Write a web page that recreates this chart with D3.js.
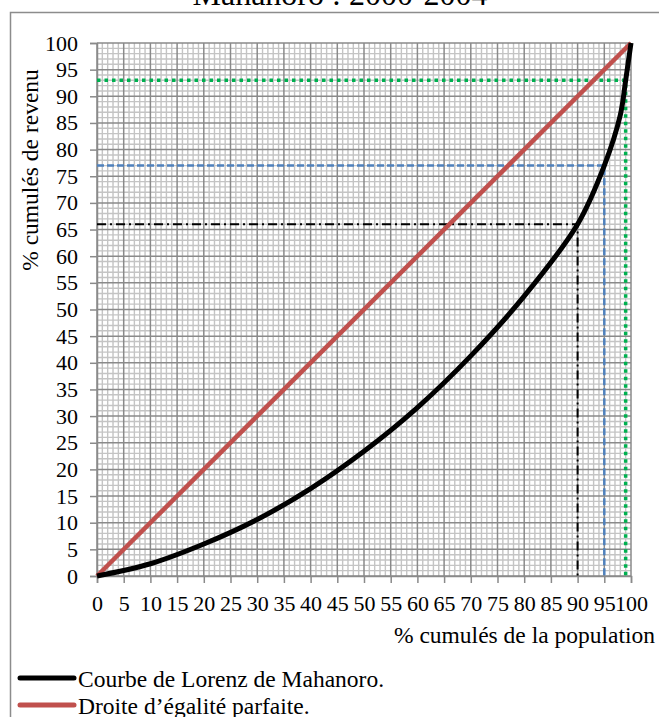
<!DOCTYPE html>
<html><head><meta charset="utf-8">
<script src="https://cdn.jsdelivr.net/npm/d3@7"></script>
<style>html,body{margin:0;padding:0;background:#fff;overflow:hidden}</style>
</head><body>
<svg id="c" width="659" height="717"></svg>
<script>
// ---- data ----
const titleText = "Mahanoro : 2000-2004";
const xTicks = [0,5,10,15,20,25,30,35,40,45,50,55,60,65,70,75,80,85,90,95,100];
const yTicks = [0,5,10,15,20,25,30,35,40,45,50,55,60,65,70,75,80,85,90,95,100];
const lorenzX = [0,10,20,30,40,50,60,70,80,90,95,98,99,100];
const lorenzY = [0,2.3,6,10.6,16.4,23.4,31.6,41.3,52.5,66,77,86.5,93,100];
const equalityX = [0,100];
const equalityY = [0,100];
const refNames = ["p90","p95","p99"];
const refX = [90,95,99];
const refY = [66,77,93];
const legendLabels = ["Courbe de Lorenz de Mahanoro.","Droite d\u2019égalité parfaite."];

// ---- drawing ----
const svg = d3.select("#c");
const serif = "'Liberation Serif','Times New Roman',serif";
const x = d3.scaleLinear().domain([0,100]).range([97,631]);
const y = d3.scaleLinear().domain([0,100]).range([576,43]);

// outer frame
svg.append("rect").attr("x",10.5).attr("y",12.5).attr("width",700).attr("height",800)
  .attr("fill","none").attr("stroke","#8c8c8c").attr("stroke-width",1.5);

svg.append("text").attr("x",340).attr("y",5).attr("text-anchor","middle")
  .attr("font-family",serif).attr("font-size",32).text(titleText);

// grid minor
const minor = d3.range(0,101,1);
const g = svg.append("g");
g.selectAll("line.mx").data(minor.filter(v=>v%5)).join("line")
  .attr("x1",d=>x(d)).attr("x2",d=>x(d)).attr("y1",y(0)).attr("y2",y(100))
  .attr("stroke","#c4c4c4").attr("stroke-width",1.4);
g.selectAll("line.my").data(minor.filter(v=>v%5)).join("line")
  .attr("y1",d=>y(d)).attr("y2",d=>y(d)).attr("x1",x(0)).attr("x2",x(100))
  .attr("stroke","#c4c4c4").attr("stroke-width",1.4);
g.selectAll("line.Mx").data(xTicks).join("line")
  .attr("x1",d=>x(d)).attr("x2",d=>x(d)).attr("y1",y(0)).attr("y2",y(100))
  .attr("stroke","#8a8a8a").attr("stroke-width",1.5);
g.selectAll("line.My").data(yTicks).join("line")
  .attr("y1",d=>y(d)).attr("y2",d=>y(d)).attr("x1",x(0)).attr("x2",x(100))
  .attr("stroke","#8a8a8a").attr("stroke-width",1.5);

// axes
const xAxis = d3.axisBottom(x).tickValues(xTicks).tickSize(7).tickPadding(12).tickFormat(d3.format("d"));
const yAxis = d3.axisLeft(y).tickValues(yTicks).tickSize(7).tickPadding(12).tickFormat(d3.format("d"));
const gx = svg.append("g").attr("transform",`translate(0,${y(0)})`).call(xAxis);
const gy = svg.append("g").attr("transform",`translate(${x(0)},0)`).call(yAxis);
[gx,gy].forEach(a=>{
  a.select(".domain").attr("stroke","#8a8a8a").attr("stroke-width",1.5);
  a.selectAll(".tick line").attr("stroke","#8a8a8a").attr("stroke-width",1.5);
  a.selectAll("text").attr("font-family",serif).attr("font-size",22).attr("fill","#000");
});

// reference lines
const refStyle = [
  {c:"#000000", w:2, d:"9,4,2,4"},
  {c:"#4f81bd", w:2.5, d:"7,3"},
  {c:"#00b050", w:3.5, d:"3.5,4"}
];
refX.forEach((rx,i)=>{
  const s = refStyle[i];
  svg.append("path").attr("class",refNames[i])
    .attr("d",`M${x(0)},${y(refY[i])}H${x(rx)}V${y(0)}`)
    .attr("fill","none").attr("stroke",s.c).attr("stroke-width",s.w).attr("stroke-dasharray",s.d);
});

// equality line
const line = d3.line().x(d=>x(d[0])).y(d=>y(d[1]));
svg.append("path").datum(equalityX.map((v,i)=>[v,equalityY[i]]))
  .attr("d",line).attr("fill","none").attr("stroke","#c0504d").attr("stroke-width",4.5);

// lorenz curve
svg.append("path").datum(lorenzX.map((v,i)=>[v,lorenzY[i]]))
  .attr("d",line.curve(d3.curveCatmullRom.alpha(0.5))).attr("fill","none").attr("stroke","#000").attr("stroke-width",5)
  .attr("stroke-linejoin","round");

// axis titles
svg.append("text").attr("transform","translate(38,170) rotate(-90)").attr("text-anchor","middle")
  .attr("font-family",serif).attr("font-size",23.5).text("% cumulés de revenu");
svg.append("text").attr("x",655).attr("y",643).attr("text-anchor","end")
  .attr("font-family",serif).attr("font-size",23.5).text("% cumulés de la population");

// legend
const legColors = ["#000000","#c0504d"];
legendLabels.forEach((t,i)=>{
  const ly = 678 + i*27;
  svg.append("line").attr("x1",20).attr("x2",74).attr("y1",ly).attr("y2",ly)
    .attr("stroke",legColors[i]).attr("stroke-width",5).attr("stroke-linecap","round");
  svg.append("text").attr("x",78).attr("y",ly+9).attr("font-family",serif).attr("font-size",23.5).text(t);
});
</script>
</body></html>
